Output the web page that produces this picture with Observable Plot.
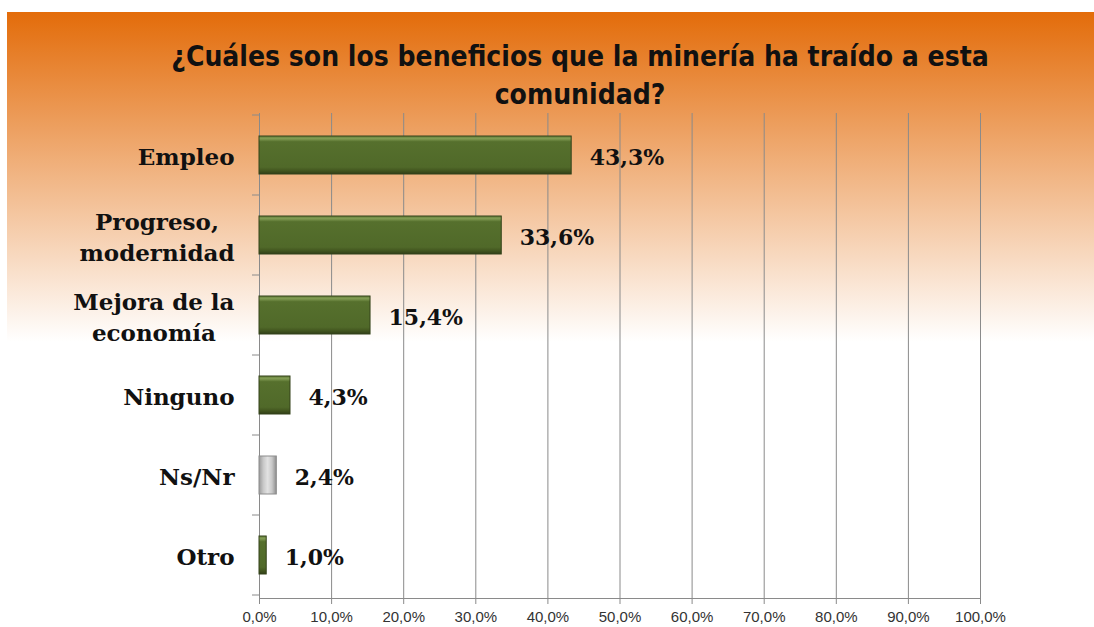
<!DOCTYPE html>
<html>
<head>
<meta charset="utf-8">
<script src="https://cdn.jsdelivr.net/npm/d3@7"></script>
<script src="https://cdn.jsdelivr.net/npm/@observablehq/plot@0.6"></script>
<style>
  html, body { margin: 0; padding: 0; background: #fff; }
  #wrap { position: relative; width: 1094px; height: 627px; overflow: hidden; background: #fff; }
  #bg { position: absolute; left: 7px; top: 12px; right: 0; height: 330px;
        background: linear-gradient(to bottom, #E36C0A 0%, #FFFFFF 100%); }
  #title { position: absolute; left: 0; top: 38px; width: 1160px; text-align: center;
           font-family: "DejaVu Sans Condensed", "DejaVu Sans", sans-serif; font-stretch: condensed;
           font-weight: bold; font-size: 28px; line-height: 38px; color: #111; }
  #chart { position: absolute; left: 0; top: 100px; }
</style>
</head>
<body>
<div id="wrap">
  <div id="bg"></div>
  <div id="title">¿Cuáles son los beneficios que la minería ha traído a esta<br>comunidad?</div>
  <div id="chart"></div>
</div>
<script>
const categories = ["Empleo", "Progreso,\nmodernidad", "Mejora de la\neconomía", "Ninguno", "Ns/Nr", "Otro"];
const values = [43.3, 33.6, 15.4, 4.3, 2.4, 1.0];
const grayCategories = ["Ns/Nr"];
const xTicks = [0, 10, 20, 30, 40, 50, 60, 70, 80, 90, 100];

const data = categories.map((c, i) => ({cat: c, value: values[i]}));
const fmt = v => v.toFixed(1).replace(".", ",") + "%";

const plot = Plot.plot({
  width: 1094,
  height: 527,
  marginTop: 13,
  marginBottom: 29,
  marginLeft: 259,
  marginRight: 114,
  style: {background: "transparent", overflow: "visible"},
  x: {domain: [0, 100], ticks: xTicks, label: null},
  y: {domain: categories, paddingInner: 0.52, paddingOuter: 0.26, label: null},
  marks: [
    Plot.gridX(xTicks, {stroke: "#8a8a8a", strokeOpacity: 1, strokeWidth: 1}),
    Plot.frame({anchor: "bottom", stroke: "#8a8a8a"}),
    Plot.axisX(xTicks, {tickFormat: fmt, tickSize: 6, stroke: "#8a8a8a", tickPadding: 7, label: null,
      fontSize: 15, fontFamily: "Liberation Sans, Arial, sans-serif", fill: "#333"}),
    Plot.axisY({tickSize: 0, tickPadding: 25, fontSize: 23, fontWeight: "bold", label: null,
      fontFamily: "DejaVu Serif, serif", fill: "#111", lineHeight: 1.35}),
    Plot.barX(data.filter(d => !grayCategories.includes(d.cat)),
      {x: "value", y: "cat", fill: "url(#gGreen)", stroke: "#34431a", strokeWidth: 1}),
    Plot.barX(data.filter(d => grayCategories.includes(d.cat)),
      {x: "value", y: "cat", fill: "url(#gGray)", stroke: "#8c8c8c", strokeWidth: 1}),
    Plot.text(data, {x: "value", y: "cat", text: d => fmt(d.value), textAnchor: "start", dx: 18, dy: 2,
      fontSize: 22, fontWeight: "bold", fontFamily: "DejaVu Serif, serif", fill: "#111"})
  ]
});

document.getElementById("chart").appendChild(plot);

// gradients for the bevelled bars
const svg = d3.select(plot);
const defs = svg.insert("defs", ":first-child");
const gG = defs.append("linearGradient").attr("id", "gGreen").attr("x1", 0).attr("y1", 0).attr("x2", 0).attr("y2", 1);
[["0%", "#647f38"], ["7%", "#829c54"], ["15%", "#56702d"], ["82%", "#506929"], ["92%", "#41541e"], ["100%", "#303e17"]]
  .forEach(([o, c]) => gG.append("stop").attr("offset", o).attr("stop-color", c));
const gR = defs.append("linearGradient").attr("id", "gGray").attr("x1", 0).attr("y1", 0).attr("x2", 1).attr("y2", 0);
[["0%", "#9a9a9a"], ["25%", "#c8c8c8"], ["50%", "#e2e2e2"], ["75%", "#c8c8c8"], ["100%", "#8e8e8e"]]
  .forEach(([o, c]) => gR.append("stop").attr("offset", o).attr("stop-color", c));

// band-boundary ticks on the left axis
const ys = plot.scale("y");
const xs = plot.scale("x");
const x0 = xs.apply(0);
const step = ys.step;
const y0 = ys.apply(categories[0]) - (step - ys.bandwidth) / 2;
const bounds = d3.range(categories.length + 1).map(i => y0 + i * step);
const g = svg.append("g").attr("stroke", "#8a8a8a");
bounds.forEach(b => g.append("line").attr("x1", x0 - 7).attr("x2", x0).attr("y1", b).attr("y2", b));

// center multi-line category labels within their right-aligned block
svg.selectAll('[aria-label="y-axis tick label"] text').each(function() {
  const tspans = d3.select(this).selectAll("tspan");
  if (tspans.size() > 1) {
    let w = 0;
    tspans.each(function() { w = Math.max(w, this.getComputedTextLength()); });
    const xAttr = +(d3.select(this).attr("x") || 0);
    d3.select(this).attr("text-anchor", "middle");
    tspans.attr("x", xAttr - w / 2);
  }
});
</script>
</body>
</html>
